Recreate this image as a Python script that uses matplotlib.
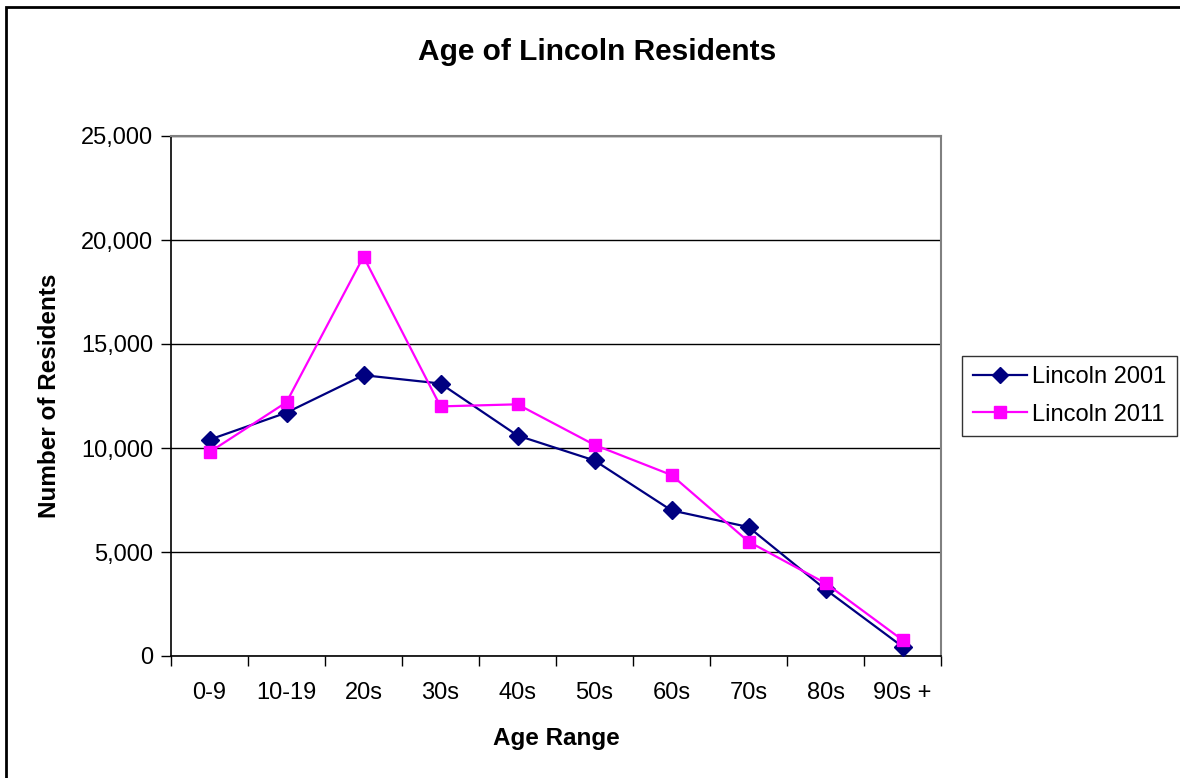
import matplotlib
matplotlib.use("Agg")
import matplotlib.pyplot as plt
from matplotlib.ticker import FuncFormatter, FixedLocator
from matplotlib.patches import Rectangle

plt.rcParams['font.family'] = ['Liberation Sans', 'DejaVu Sans']

categories = ["0-9", "10-19", "20s", "30s", "40s", "50s", "60s", "70s", "80s", "90s +"]
lincoln_2001 = [10400, 11700, 13500, 13100, 10600, 9400, 7000, 6200, 3200, 450]
lincoln_2011 = [9800, 12200, 19200, 12000, 12100, 10150, 8700, 5500, 3500, 770]

W, H = 1180, 778
fig = plt.figure(figsize=(W / 100, H / 100), dpi=100)
fig.patch.set_facecolor("white")

# figure border
fig.patches.append(Rectangle((6 / W, -0.05), 1.2, (H - 7) / H + 0.05, transform=fig.transFigure,
                             fill=False, edgecolor="black", linewidth=2.0, zorder=0))

left, right, top, bottom = 171, 941, 136, 656
ax = fig.add_axes([left / W, 1 - bottom / H, (right - left) / W, (bottom - top) / H])

x = list(range(len(categories)))
ax.plot(x, lincoln_2001, color="#000080", marker="D", markersize=9, linewidth=1.6,
        label="Lincoln 2001", zorder=3)
ax.plot(x, lincoln_2011, color="#FF00FF", marker="s", markersize=9, linewidth=1.6,
        label="Lincoln 2011", zorder=3)

ax.set_xlim(-0.5, len(categories) - 0.5)
ax.set_ylim(0, 25000)
ax.set_yticks([0, 5000, 10000, 15000, 20000, 25000])
ax.yaxis.set_major_formatter(FuncFormatter(lambda v, p: f"{int(v):,}"))
ax.yaxis.grid(True, color="black", linewidth=1.0)
ax.set_axisbelow(True)

ax.set_xticks(x)
ax.set_xticklabels(categories)
ax.xaxis.set_minor_locator(FixedLocator([i - 0.5 for i in range(len(categories) + 1)]))
ax.tick_params(axis="x", which="major", length=0, pad=19, labelsize=17)
ax.tick_params(axis="x", which="minor", length=7, width=1, color="black")
ax.tick_params(axis="y", length=7, width=1, labelsize=17, pad=6)

for s in ["top", "right"]:
    ax.spines[s].set_color("#808080")
    ax.spines[s].set_linewidth(1.5)
for s in ["left", "bottom"]:
    ax.spines[s].set_color("black")
    ax.spines[s].set_linewidth(1.2)

ax.set_xlabel("Age Range", fontsize=17.5, fontweight="bold", labelpad=16)
ax.set_ylabel("Number of Residents", fontsize=17.5, fontweight="bold", labelpad=14)
fig.text(597 / W, 1 - 52 / H, "Age of Lincoln Residents", fontsize=21.5, fontweight="bold",
         ha="center", va="center")

leg = ax.legend(loc="center left", bbox_to_anchor=(962 / W, 1 - 396 / H), bbox_transform=fig.transFigure,
                fontsize=17, frameon=True, fancybox=False, edgecolor="black", borderpad=0.45,
                handlelength=2.3, handletextpad=0.2, labelspacing=0.65, borderaxespad=0,
                markerscale=0.9)
leg.get_frame().set_linewidth(1.0)

fig.savefig("out.png", dpi=100)
